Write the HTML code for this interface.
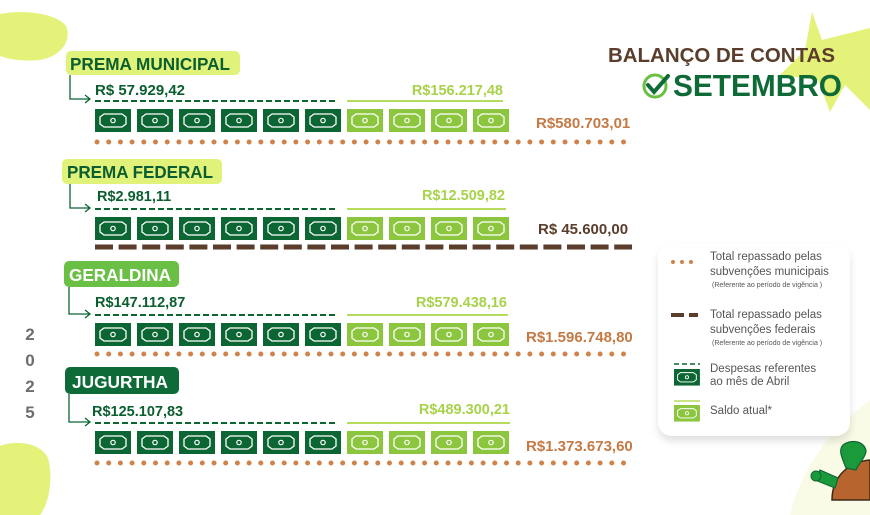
<!DOCTYPE html>
<html><head><meta charset="utf-8"><style>
html,body{margin:0;padding:0;background:#fff;}
svg{display:block;}
text{font-family:"Liberation Sans",sans-serif;}
</style></head><body>
<svg width="870" height="515" viewBox="0 0 870 515" xmlns="http://www.w3.org/2000/svg">
<defs>
<filter id="sh" x="-10%" y="-10%" width="120%" height="130%"><feDropShadow dx="0" dy="5" stdDeviation="4" flood-color="#000" flood-opacity="0.12"/></filter>
<g id="bd"><rect width="36" height="23" fill="#0b6633"/><path d="M5 8 L9 5 H27 L31 8 V15 L27 18 H9 L5 15 Z" fill="none" stroke="#fff" stroke-width="1.3"/><circle cx="18" cy="11.5" r="2.2" fill="none" stroke="#fff" stroke-width="1.2"/></g>
<g id="bl"><rect width="36" height="23" fill="#8cc63f"/><path d="M5 8 L9 5 H27 L31 8 V15 L27 18 H9 L5 15 Z" fill="none" stroke="#fff" stroke-width="1.3"/><circle cx="18" cy="11.5" r="2.2" fill="none" stroke="#fff" stroke-width="1.2"/></g>
<g id="row">
<use href="#bd" x="95"/><use href="#bd" x="137"/><use href="#bd" x="179"/><use href="#bd" x="221"/><use href="#bd" x="263"/><use href="#bd" x="305"/>
<use href="#bl" x="347"/><use href="#bl" x="389"/><use href="#bl" x="431"/><use href="#bl" x="473"/>
</g>
</defs>
<!-- background decorations -->
<path d="M0 14 C20 10 55 12 66 26 C72 40 62 56 40 60 C20 62 5 58 0 56 Z" fill="#e4f27a"/>
<path d="M0 446 C15 440 40 442 48 458 C54 480 48 505 40 515 L0 515 Z" fill="#e4f27a"/>
<path d="M812 12 L822 40 L870 28 L870 110 L845 85 L830 112 L818 80 L780 75 L805 50 Z" fill="#e4f27a"/>
<path d="M790 515 C800 470 830 430 870 400 L870 515 Z" fill="#fafbe6"/>
<!-- title -->
<text x="608" y="62" font-size="20" fill="#5a3e2b" font-weight="bold" textLength="227" lengthAdjust="spacingAndGlyphs">BALANÇO DE CONTAS</text>
<circle cx="655" cy="86" r="11" fill="none" stroke="#6abf45" stroke-width="3"/>
<path d="M648 85 L654 92 L668 76" fill="none" stroke="#0e6b37" stroke-width="4" stroke-linecap="round"/>
<text x="673" y="96" font-size="31" fill="#0e6b37" font-weight="bold" textLength="169" lengthAdjust="spacingAndGlyphs">SETEMBRO</text>
<!-- year -->
<g font-size="17" fill="#6d6d6d" font-weight="bold" text-anchor="middle">
<text x="30" y="340">2</text><text x="30" y="366">0</text><text x="30" y="392">2</text><text x="30" y="418">5</text></g>

<!-- section 1 -->
<rect x="66" y="51" width="174" height="24" rx="5" fill="#e0f27a"/>
<text x="70" y="70" font-size="17.5" font-weight="bold" fill="#0b5e2f" textLength="160" lengthAdjust="spacingAndGlyphs">PREMA MUNICIPAL</text>
<path d="M70 75 V99 H89 M85 95 L90 99 L85 103" fill="none" stroke="#0b6633" stroke-width="1.3"/>
<text x="95" y="95" font-size="14.5" font-weight="bold" fill="#0b5e2f" textLength="90" lengthAdjust="spacingAndGlyphs">R$ 57.929,42</text>
<text x="503" y="95" font-size="14.5" font-weight="bold" fill="#a8d24a" text-anchor="end">R$156.217,48</text>
<line x1="95" y1="101" x2="337" y2="101" stroke="#0b6633" stroke-width="2" stroke-dasharray="6 3"/>
<line x1="347" y1="101" x2="503" y2="101" stroke="#b5dc5c" stroke-width="2"/>
<use href="#row" y="109"/>
<text x="536" y="128" font-size="15" font-weight="bold" fill="#c47a45">R$580.703,01</text>
<line x1="97" y1="142" x2="630" y2="142" stroke="#cf834a" stroke-width="5" stroke-dasharray="0 11.7" stroke-linecap="round"/>

<!-- section 2 -->
<rect x="62" y="159" width="160" height="25" rx="5" fill="#e0f27a"/>
<text x="67" y="178" font-size="17.5" font-weight="bold" fill="#0b5e2f" textLength="146" lengthAdjust="spacingAndGlyphs">PREMA FEDERAL</text>
<path d="M70 184 V208 H89 M85 204 L90 208 L85 212" fill="none" stroke="#0b6633" stroke-width="1.3"/>
<text x="97" y="201" font-size="14.5" font-weight="bold" fill="#0b5e2f">R$2.981,11</text>
<text x="505" y="200" font-size="14.5" font-weight="bold" fill="#a8d24a" text-anchor="end">R$12.509,82</text>
<line x1="95" y1="209" x2="337" y2="209" stroke="#0b6633" stroke-width="2" stroke-dasharray="6 3"/>
<line x1="347" y1="209" x2="506" y2="209" stroke="#b5dc5c" stroke-width="2"/>
<use href="#row" y="217"/>
<text x="538" y="234" font-size="15" font-weight="bold" fill="#5a3e2b">R$ 45.600,00</text>
<line x1="95" y1="247" x2="632" y2="247" stroke="#5a3e2b" stroke-width="5" stroke-dasharray="18 5.6"/>

<!-- section 3 -->
<rect x="64" y="261" width="115" height="26" rx="5" fill="#6abf45"/>
<text x="69" y="281" font-size="17.5" font-weight="bold" fill="#fff" textLength="102" lengthAdjust="spacingAndGlyphs">GERALDINA</text>
<path d="M69 287 V314 H89 M85 310 L90 314 L85 318" fill="none" stroke="#0b6633" stroke-width="1.3"/>
<text x="95" y="307" font-size="14.5" font-weight="bold" fill="#0b5e2f">R$147.112,87</text>
<text x="507" y="307" font-size="14.5" font-weight="bold" fill="#a8d24a" text-anchor="end">R$579.438,16</text>
<line x1="95" y1="315" x2="337" y2="315" stroke="#0b6633" stroke-width="2" stroke-dasharray="6 3"/>
<line x1="347" y1="315" x2="508" y2="315" stroke="#b5dc5c" stroke-width="2"/>
<use href="#row" y="323"/>
<text x="526" y="342" font-size="15" font-weight="bold" fill="#c47a45">R$1.596.748,80</text>
<line x1="97" y1="354" x2="630" y2="354" stroke="#cf834a" stroke-width="5" stroke-dasharray="0 11.7" stroke-linecap="round"/>

<!-- section 4 -->
<rect x="65" y="367" width="114" height="27" rx="5" fill="#0e6b37"/>
<text x="72" y="388" font-size="17.5" font-weight="bold" fill="#fff" textLength="96" lengthAdjust="spacingAndGlyphs">JUGURTHA</text>
<path d="M69 394 V422 H89 M85 418 L90 422 L85 426" fill="none" stroke="#0b6633" stroke-width="1.3"/>
<text x="92" y="416" font-size="14.5" font-weight="bold" fill="#0b5e2f">R$125.107,83</text>
<text x="510" y="414" font-size="14.5" font-weight="bold" fill="#a8d24a" text-anchor="end">R$489.300,21</text>
<line x1="95" y1="423" x2="337" y2="423" stroke="#0b6633" stroke-width="2" stroke-dasharray="6 3"/>
<line x1="347" y1="423" x2="510" y2="423" stroke="#b5dc5c" stroke-width="2"/>
<use href="#row" y="431"/>
<text x="526" y="451" font-size="15" font-weight="bold" fill="#c47a45">R$1.373.673,60</text>
<line x1="97" y1="463" x2="630" y2="463" stroke="#cf834a" stroke-width="5" stroke-dasharray="0 11.7" stroke-linecap="round"/>

<!-- legend -->
<rect x="658" y="244" width="192" height="192" rx="14" fill="#fff" filter="url(#sh)"/>
<g fill="#cf834a"><circle cx="673" cy="262" r="2"/><circle cx="682" cy="262" r="2"/><circle cx="691" cy="262" r="2"/></g>
<g font-size="11.5" fill="#555">
<text x="710" y="260">Total repassado pelas</text>
<text x="710" y="275">subvenções municipais</text>
<text x="712" y="287" font-size="7">(Referente ao período de vigência )</text>
<text x="710" y="318">Total repassado pelas</text>
<text x="710" y="333">subvenções federais</text>
<text x="712" y="345" font-size="7">(Referente ao período de vigência )</text>
<text x="710" y="372">Despesas referentes</text>
<text x="710" y="385">ao mês de Abril</text>
<text x="710" y="414">Saldo atual*</text>
</g>
<rect x="671" y="313" width="13" height="4" fill="#5a3e2b"/><rect x="689" y="313" width="9" height="4" fill="#5a3e2b"/>
<line x1="674" y1="364" x2="700" y2="364" stroke="#0b6633" stroke-width="1.5" stroke-dasharray="5 3"/>
<use href="#bd" transform="translate(674,369) scale(0.72)"/>
<line x1="674" y1="401" x2="700" y2="401" stroke="#b5dc5c" stroke-width="1.5"/>
<use href="#bl" transform="translate(674,405) scale(0.72)"/>

<!-- turtle -->
<path d="M832 500 C832 475 850 462 870 460 L870 500 Z" fill="#b8642e" stroke="#3a2a1a" stroke-width="1.5"/>
<path d="M846 468 C842 458 838 450 843 445 C852 438 866 442 866 452 C864 460 858 464 856 470 Z" fill="#1a9a3a" stroke="#163" stroke-width="1.2"/>
<path d="M815 480 L835 488 L838 478 L820 470 Z" fill="#1a9a3a" stroke="#163" stroke-width="1.2"/>
<circle cx="816" cy="476" r="5" fill="#1a9a3a" stroke="#163" stroke-width="1"/>
</svg>
</body></html>
